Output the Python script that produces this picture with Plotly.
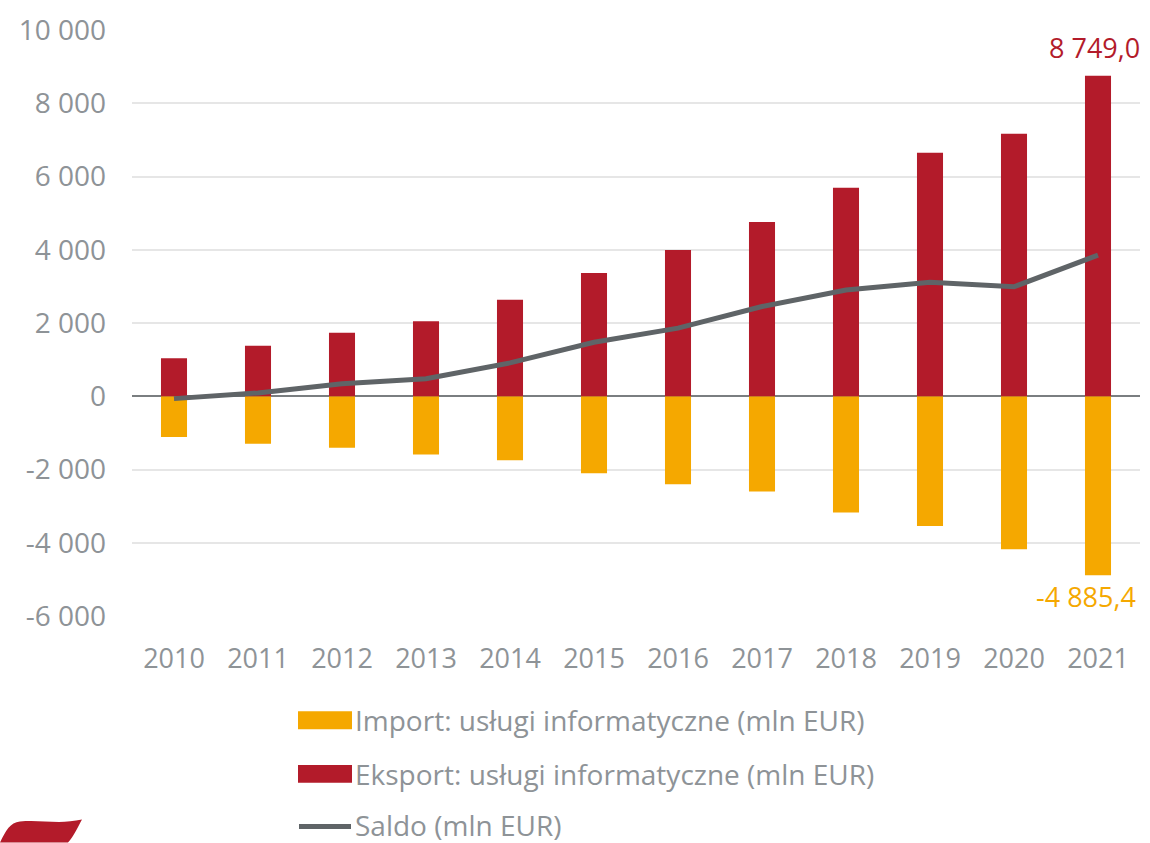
import plotly.graph_objects as go

# Polish IT services trade, mln EUR
years = ["2010", "2011", "2012", "2013", "2014", "2015",
         "2016", "2017", "2018", "2019", "2020", "2021"]
eksport = [1040, 1380, 1735, 2045, 2635, 3365, 3995, 4755, 5695, 6650, 7170, 8749.0]
import_ = [-1115, -1300, -1405, -1590, -1750, -2100, -2400, -2600, -3175, -3545, -4175, -4885.4]
saldo = [-65, 90, 340, 480, 910, 1475, 1860, 2450, 2900, 3110, 2990, 3855]

y_ticks = [-6000, -4000, -2000, 0, 2000, 4000, 6000, 8000, 10000]
y_tick_text = ["-6 000", "-4 000", "-2 000", "0", "2 000", "4 000", "6 000", "8 000", "10 000"]

legend_labels = ["Import: usługi informatyczne (mln EUR)",
                 "Eksport: usługi informatyczne (mln EUR)",
                 "Saldo (mln EUR)"]

RED = "#B31B2A"
ORANGE = "#F5A800"
LINE = "#5F6467"
GREY_TXT = "#8E9397"
FONT = "Open Sans"

W, H = 1150, 843
L, R, T, B = 132, 10, 26, 227
PW, PH = W - L - R, H - T - B


def px(x):
    return (x - L) / PW


def py(y):
    return (H - B - y) / PH


fig = go.Figure()
fig.add_trace(go.Bar(x=years, y=import_, name=legend_labels[0],
                     marker=dict(color=ORANGE, line=dict(width=0)), width=0.31))
fig.add_trace(go.Bar(x=years, y=eksport, name=legend_labels[1],
                     marker=dict(color=RED, line=dict(width=0)), width=0.31))
fig.add_trace(go.Scatter(x=years, y=saldo, name=legend_labels[2], mode="lines",
                         line=dict(color=LINE, width=5)))

last = len(years) - 1  # category index of the final year
annotations = [
    dict(x=last, y=eksport[-1], xref="x", yref="y", text="8 749,0",
         showarrow=False, yanchor="bottom", xanchor="center", xshift=-4, yshift=8,
         font=dict(family=FONT, size=27, color=RED)),
    dict(x=last, y=import_[-1], xref="x", yref="y", text="-4 885,4",
         showarrow=False, yanchor="top", xanchor="center", xshift=-12, yshift=-1,
         font=dict(family=FONT, size=27, color=ORANGE)),
]

shapes = []
# custom legend
legend_rows = [721, 775, 826]
for i, (lab, yc) in enumerate(zip(legend_labels, legend_rows)):
    if i < 2:
        shapes.append(dict(type="rect", xref="paper", yref="paper",
                           x0=px(298), x1=px(352), y0=py(yc - 9), y1=py(yc + 9),
                           fillcolor=[ORANGE, RED][i], line=dict(width=0)))
    else:
        shapes.append(dict(type="line", xref="paper", yref="paper",
                           x0=px(299), x1=px(351), y0=py(yc + 2), y1=py(yc + 2),
                           line=dict(color=LINE, width=5)))
    annotations.append(dict(x=px(353), y=py(yc), xref="paper", yref="paper",
                            text=lab, showarrow=False, xanchor="left", yanchor="middle",
                            font=dict(family=FONT, size=28, color=GREY_TXT)))

# red flag emblem, bottom left
path = "M{},{} C{},{} {},{} {},{} C{},{} {},{} {},{} C{},{} {},{} {},{} Z".format(
    px(0), py(844),
    px(6), py(832), px(10), py(824), px(20), py(823),
    px(40), py(821), px(60), py(826), px(82), py(821),
    px(78), py(828), px(74), py(838), px(68), py(844))
shapes.append(dict(type="path", path=path, xref="paper", yref="paper",
                   fillcolor="#B31B2A", line=dict(width=0), layer="above"))

fig.update_layout(
    width=W, height=H,
    margin=dict(l=L, r=R, t=T, b=B),
    paper_bgcolor="white", plot_bgcolor="white",
    barmode="overlay",
    showlegend=False,
    annotations=annotations,
    shapes=shapes,
    font=dict(family=FONT, color=GREY_TXT),
)
fig.update_xaxes(type="category", range=[-0.5, last + 0.5],
                 showgrid=False, showline=False, ticks="",
                 tickfont=dict(family=FONT, size=27, color=GREY_TXT),
                 ticklabelstandoff=24)
fig.update_yaxes(range=[-6000, 10000], tickvals=y_ticks, ticktext=y_tick_text,
                 showgrid=True, gridcolor="#E6E6E6", gridwidth=1.5,
                 zeroline=True, zerolinecolor="#7A7E80", zerolinewidth=1.5,
                 showline=False, ticks="",
                 tickfont=dict(family=FONT, size=28, color=GREY_TXT),
                 ticklabelstandoff=25)

fig.write_html("out.html")
